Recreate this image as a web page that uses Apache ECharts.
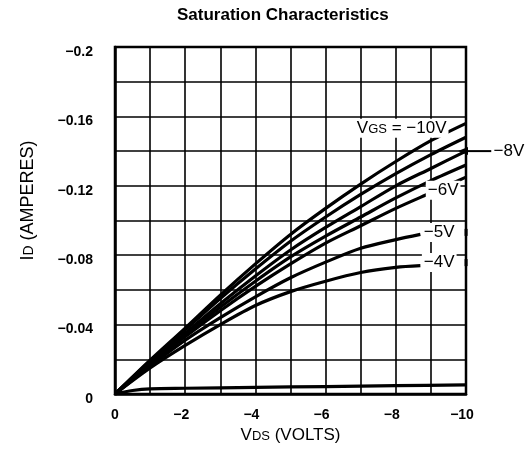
<!DOCTYPE html>
<html>
<head>
<meta charset="UTF-8">
<title>Saturation Characteristics</title>
<script src="https://cdn.jsdelivr.net/npm/echarts@6/dist/echarts.min.js"></script>
<style>
  html, body { margin: 0; padding: 0; background: #fff; }
  #main { width: 532px; height: 450px; }
</style>
</head>
<body>
<div id="main"></div>
<script>
// drain voltage points (volts)
var vds = [0, -1, -2, -3, -4, -5, -6, -7, -8, -9, -10];
var vdsShort = [0, -1, -2, -3, -4, -5, -6, -7, -8, -8.7];
var vdsLeak = [0, -0.5, -1, -2, -4, -6, -8, -10];

// drain current (amperes), one list per gate voltage
var idVgs10 = [0, -0.0195, -0.038, -0.057, -0.075, -0.092, -0.107, -0.121, -0.134, -0.146, -0.156];
var idVgs9  = [0, -0.019, -0.037, -0.055, -0.072, -0.088, -0.102, -0.115, -0.127, -0.138, -0.148];
var idVgs8  = [0, -0.018, -0.035, -0.052, -0.068, -0.083, -0.096, -0.108, -0.120, -0.130, -0.140];
var idVgs7  = [0, -0.018, -0.034, -0.050, -0.065, -0.079, -0.091, -0.102, -0.113, -0.123, -0.132];
var idVgs6  = [0, -0.017, -0.033, -0.048, -0.062, -0.075, -0.087, -0.097, -0.107, -0.116, -0.125];
var idVgs5  = [0, -0.016, -0.031, -0.044, -0.056, -0.067, -0.076, -0.084, -0.089, -0.092];
var idVgs4  = [0, -0.015, -0.028, -0.040, -0.051, -0.059, -0.065, -0.070, -0.073, -0.074];
var idLeak  = [0, -0.002, -0.003, -0.0033, -0.0038, -0.0043, -0.0048, -0.0053];

// axis ranges and tick steps
var vdsRange = [-10, 0], vdsStep = 2;
var idRange = [-0.2, 0], idStep = 0.04;

var SANS = "'Liberation Sans', Arial, sans-serif";
var MINUS = '\u2212';

function pairs(xs, ys) {
    return xs.map(function (x, i) { return [x, ys[i]]; });
}

function curve(name, xs, ys, tags) {
    var s = {
        name: name,
        type: 'line',
        data: pairs(xs, ys),
        smooth: 0.3,
        showSymbol: false,
        symbol: 'none',
        silent: true,
        animation: false,
        lineStyle: { color: '#000', width: 3.2 },
        z: 3
    };
    if (tags) {
        s.markPoint = {
            symbol: 'rect',
            symbolSize: 1,
            silent: true,
            animation: false,
            itemStyle: { color: 'rgba(0,0,0,0)' },
            data: tags
        };
    }
    return s;
}

function tagLabel(text, pos, dist, off, extra) {
    var l = {
        show: true,
        formatter: text,
        position: pos,
        distance: dist,
        offset: off,
        color: '#000',
        fontFamily: SANS,
        fontSize: 17,
        backgroundColor: '#fff',
        padding: [1, 2, 1, 2],
        rich: {
            s: { fontFamily: SANS, fontSize: 13, verticalAlign: 'bottom', padding: [0, 0, 1, 0] },
            t: { fontFamily: SANS, fontSize: 17, backgroundColor: '#fff', padding: [1, 2, 1, 2] },
            m: { width: 3, height: 7, backgroundColor: '#000' },
            gap: { width: 8 },
            bar: { width: 29, height: 2, backgroundColor: '#000' }
        }
    };
    if (extra) Object.assign(l, extra);
    return l;
}

var last = function (a) { return a[a.length - 1]; };
var bare = { backgroundColor: 'transparent', padding: 0 };

var series = [
    curve('VGS -10V', vds, idVgs10, [
        { coord: [last(vds), last(idVgs10)],
          label: tagLabel('V{s|GS} = ' + MINUS + '10V', 'left', 17, [0, 5]) }
    ]),
    curve('VGS -9V', vds, idVgs9),
    curve('VGS -8V', vds, idVgs8, [
        { coord: [last(vds), last(idVgs8)],
          label: tagLabel('{bar| }{t|' + MINUS + '8V}', 'right', 0, [-4, 0], bare) },
        { coord: [last(vds), last(idVgs8)], symbol: 'triangle', symbolSize: [8, 10],
          symbolRotate: 90, symbolOffset: [-3, 0], itemStyle: { color: '#000' },
          label: { show: false } }
    ]),
    curve('VGS -7V', vds, idVgs7),
    curve('VGS -6V', vds, idVgs6, [
        { coord: [last(vds), last(idVgs6)],
          label: tagLabel(MINUS + '6V', 'left', 5, [0, 13]) }
    ]),
    curve('VGS -5V', vdsShort, idVgs5, [
        { coord: [last(vdsShort), last(idVgs5)],
          label: tagLabel('{t|' + MINUS + '5V}{gap| }{m| }', 'right', 1, [0, -2], bare) }
    ]),
    curve('VGS -4V', vdsShort, idVgs4, [
        { coord: [last(vdsShort), last(idVgs4)],
          label: tagLabel('{t|' + MINUS + '4V}{gap| }{m| }', 'right', 1, [0, -3], bare) }
    ]),
    curve('leak', vdsLeak, idLeak)
];

var gridLine = { color: '#000', width: 1.6 };

var option = {
    animation: false,
    backgroundColor: '#fff',
    title: {
        text: 'Saturation Characteristics',
        left: 177,
        top: 7,
        padding: 0,
        textStyle: { fontFamily: SANS, fontWeight: 'bold', fontSize: 17, color: '#000' }
    },
    grid: {
        left: 115, right: 66, top: 47, bottom: 56,
        show: true, borderColor: '#000', borderWidth: 2.5,
        backgroundColor: 'transparent'
    },
    xAxis: {
        type: 'value',
        min: vdsRange[0], max: vdsRange[1], interval: vdsStep,
        inverse: true,
        axisLine: { show: true, onZero: false, lineStyle: { color: '#000', width: 2.5 } },
        axisTick: { show: false },
        minorTick: { show: false, splitNumber: 2 },
        splitLine: { show: true, lineStyle: gridLine },
        minorSplitLine: { show: true, lineStyle: gridLine },
        axisLabel: {
            margin: 14,
            formatter: function (v) {
                if (Math.abs(v) < 1e-9) return '{n|0}';
                return '{n|' + MINUS + Math.abs(v) + '}{p| }';
            },
            rich: {
                n: { fontFamily: SANS, fontWeight: 'bold', fontSize: 14, color: '#000' },
                p: { width: 8 }
            }
        },
        name: '{v|V}{s|DS}{v| (VOLTS)}',
        nameLocation: 'middle',
        nameGap: 27,
        nameTextStyle: {
            color: '#000',
            rich: {
                v: { fontFamily: SANS, fontSize: 17, color: '#000' },
                s: { fontFamily: SANS, fontSize: 13, color: '#000', verticalAlign: 'bottom', padding: [0, 0, 1, 0] }
            }
        }
    },
    yAxis: {
        type: 'value',
        min: idRange[0], max: idRange[1], interval: idStep,
        inverse: true,
        axisLine: { show: true, onZero: false, lineStyle: { color: '#000', width: 2.5 } },
        axisTick: { show: false },
        minorTick: { show: false, splitNumber: 2 },
        splitLine: { show: true, lineStyle: gridLine },
        minorSplitLine: { show: true, lineStyle: gridLine },
        axisLabel: {
            margin: 22,
            formatter: function (v) {
                if (Math.abs(v) < 1e-9) return '{n|0}';
                return '{n|' + MINUS + parseFloat(Math.abs(v).toFixed(2)) + '}';
            },
            rich: {
                n: { fontFamily: SANS, fontWeight: 'bold', fontSize: 14, color: '#000', padding: [10, 0, 0, 0] }
            }
        },
        name: '{v|I}{s|D}{v| (AMPERES)}',
        nameLocation: 'middle',
        nameGap: 78,
        nameTextStyle: {
            color: '#000',
            padding: [0, 0, 0, 40],
            rich: {
                v: { fontFamily: SANS, fontSize: 18, color: '#000' },
                s: { fontFamily: SANS, fontSize: 14, color: '#000', verticalAlign: 'bottom', padding: [0, 0, 1, 0] }
            }
        }
    },
    series: series
};

var chart = echarts.init(document.getElementById('main'));
chart.setOption(option);
</script>
</body>
</html>
